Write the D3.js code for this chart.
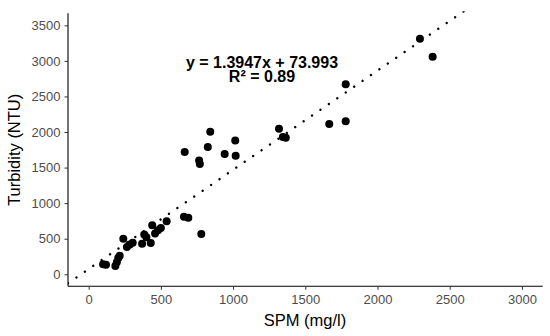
<!DOCTYPE html>
<html>
<head>
<meta charset="utf-8">
<script src="https://cdn.jsdelivr.net/npm/d3@7"></script>
<style>
  body { margin: 0; background: #fff; }
  svg text { font-family: "Liberation Sans", Arial, sans-serif; }
  .tick text { fill: #4d4d4d; font-size: 13px; }
</style>
</head>
<body>
<div id="chart"></div>
<script>
// SPM (mg/l) vs turbidity (NTU)
var spm = [100, 120, 185, 195, 205, 215, 240, 265, 285, 305, 370, 385, 400, 430, 440, 460, 480, 500, 540,
  660, 690, 665, 765, 770, 780, 825, 842, 942, 1015, 1018, 1318, 1345, 1365, 1666, 1780, 1780, 2294, 2382];
var turbidity = [140, 135, 115, 170, 230, 260, 500, 385, 420, 445, 430, 560, 520, 440, 690, 575, 620, 650, 745,
  810, 795, 1720, 1600, 1550, 565, 1790, 2005, 1690, 1880, 1665, 2047, 1930, 1920, 2113, 2671, 2151, 3312, 3059];
var xTicks = [0, 500, 1000, 1500, 2000, 2500, 3000];
var yTicks = [0, 500, 1000, 1500, 2000, 2500, 3000, 3500];
var slope = 1.3947, intercept = 73.993;
var eqLabels = ["y = 1.3947x + 73.993", "R\u00b2 = 0.89"];

var width = 550, height = 336;
var mLeft = 68, mRight = 542.7, mTop = 13.3, mBottom = 286.3;

var svg = d3.select("#chart").append("svg")
  .attr("width", width)
  .attr("height", height);

var x = d3.scaleLinear().domain([-143, 3144]).range([mLeft, mRight]);
var y = d3.scaleLinear().domain([-169, 3669]).range([mBottom, mTop]);

svg.append("clipPath").attr("id", "panel")
  .append("rect")
  .attr("x", mLeft).attr("y", mTop - 2)
  .attr("width", mRight - mLeft).attr("height", mBottom - mTop + 2);

//points
var data = spm.map(function(d, i) { return {x: d, y: turbidity[i]}; });
svg.append("g").selectAll("circle")
  .data(data)
  .enter().append("circle")
    .attr("cx", function(d) { return x(d.x); })
    .attr("cy", function(d) { return y(d.y); })
    .attr("r", 4)
    .attr("fill", "#000");

//dotted regression line
var x0 = x.domain()[0], x1 = x.domain()[1];
svg.append("line")
  .attr("clip-path", "url(#panel)")
  .attr("x1", x(x0)).attr("y1", y(slope * x0 + intercept))
  .attr("x2", x(x1)).attr("y2", y(slope * x1 + intercept))
  .attr("stroke", "#000")
  .attr("stroke-width", 2.4)
  .attr("stroke-linecap", "round")
  .attr("stroke-dasharray", "0.01 10.2");

//axes
var xAxis = svg.append("g")
  .attr("transform", "translate(0," + mBottom + ")")
  .call(d3.axisBottom(x).tickValues(xTicks).tickFormat(d3.format("d")).tickSize(3.5).tickPadding(4.5));
var yAxis = svg.append("g")
  .attr("transform", "translate(" + mLeft + ",0)")
  .call(d3.axisLeft(y).tickValues(yTicks).tickFormat(d3.format("d")).tickSize(3.5).tickPadding(4));

xAxis.select(".domain").attr("d", "M" + mLeft + ",0H" + mRight);
yAxis.select(".domain").attr("d", "M0," + mTop + "V" + mBottom);
[xAxis, yAxis].forEach(function(a) {
  a.select(".domain").attr("stroke", "#000").attr("stroke-width", 1.1);
  a.selectAll(".tick line").attr("stroke", "#333").attr("stroke-width", 1);
});

//axis titles
svg.append("text")
  .attr("x", 305)
  .attr("y", 325.5)
  .attr("text-anchor", "middle")
  .attr("font-size", "16.5px")
  .text("SPM (mg/l)");

svg.append("text")
  .attr("transform", "translate(20," + (mTop + mBottom) / 2 + ") rotate(-90)")
  .attr("text-anchor", "middle")
  .attr("font-size", "16.5px")
  .text("Turbidity (NTU)");

//equation label
svg.selectAll(".eq")
  .data(eqLabels)
  .enter().append("text")
    .attr("class", "eq")
    .attr("x", 262)
    .attr("y", function(d, i) { return 67.5 + i * 14; })
    .attr("text-anchor", "middle")
    .attr("font-size", "16px")
    .attr("font-weight", "bold")
    .text(function(d) { return d; });
</script>
</body>
</html>
